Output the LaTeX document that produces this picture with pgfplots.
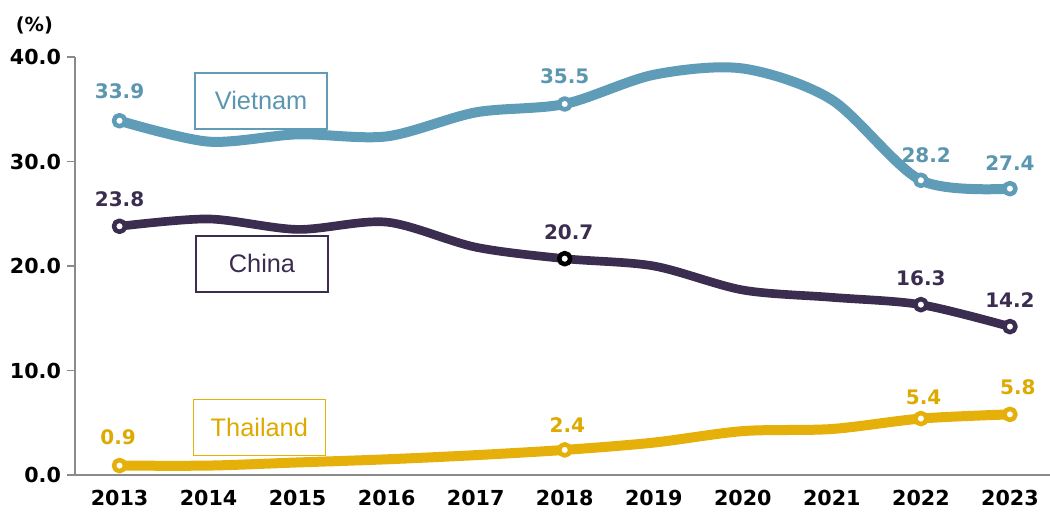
\documentclass[border=0pt]{standalone}
\usepackage{pgfplots}
\pgfplotsset{compat=1.18}
\usepackage{fontspec}
\setmainfont{DejaVu Sans}
\newfontfamily\dv{DejaVu Sans}
\newfontfamily\ar{Liberation Sans}
\definecolor{vn}{HTML}{5F9CB8}
\definecolor{vnt}{HTML}{5B96B0}
\definecolor{cn}{HTML}{3B2D50}
\definecolor{th}{HTML}{E5B00A}
\definecolor{tht}{HTML}{DDAA00}
\definecolor{axg}{HTML}{8A8A8A}
\begin{document}
\begin{tikzpicture}
\begin{axis}[
  scale only axis,
  width=731.25pt, height=313.5pt,
  xmin=-0.5, xmax=10.45,
  ymin=0, ymax=40,
  axis x line*=bottom, axis y line*=left,
  axis line style={draw=axg, line width=0.8pt},
  xtick={0,...,10},
  xticklabels={2013,2014,2015,2016,2017,2018,2019,2020,2021,2022,2023},
  xtick style={draw=none},
  extra x ticks={-0.5,0.5,1.5,2.5,3.5,4.5,5.5,6.5,7.5,8.5,9.5},
  extra x tick labels={},
  extra x tick style={tick style={draw=axg, line width=0.8pt}, major tick length=6pt, tick align=outside},
  ytick={0,10,20,30,40},
  yticklabels={0.0,10.0,20.0,30.0,40.0},
  ytick style={draw=axg, line width=0.8pt},
  major tick length=6pt,
  tick align=outside,
  ticklabel style={font=\dv\bfseries\fontsize{15.5}{18}\selectfont, text=black},
  xticklabel style={yshift=-4pt, inner sep=1pt},
  yticklabel style={xshift=-1pt},
  clip=false,
  every axis plot/.append style={line cap=round, line join=round},
]
\addplot[vn, line width=7.5pt, smooth, mark=*, mark indices={1,6,10,11},
  mark size=4.2pt, mark options={solid, fill=white, draw=vn, line width=3.4pt}]
  coordinates {(0,33.9)(1,31.9)(2,32.6)(3,32.4)(4,34.7)(5,35.5)(6,38.3)(7,38.9)(8,35.9)(9,28.2)(10,27.4)};
\addplot[cn, line width=6.5pt, smooth, mark=*, mark indices={1,10,11},
  mark size=4.2pt, mark options={solid, fill=white, draw=cn, line width=3.4pt}]
  coordinates {(0,23.8)(1,24.5)(2,23.5)(3,24.2)(4,21.8)(5,20.7)(6,20.0)(7,17.7)(8,17.0)(9,16.3)(10,14.2)};
\addplot[only marks, mark=*, mark size=4.2pt, mark options={solid, fill=white, draw=black, line width=3.4pt}]
  coordinates {(5,20.7)};
\addplot[th, line width=7.5pt, smooth, mark=*, mark indices={1,6,10,11},
  mark size=4.2pt, mark options={solid, fill=white, draw=th, line width=3.4pt}]
  coordinates {(0,0.9)(1,0.9)(2,1.2)(3,1.5)(4,1.9)(5,2.4)(6,3.1)(7,4.2)(8,4.4)(9,5.4)(10,5.8)};
% value labels
\begin{scope}[every node/.style={font=\dv\bfseries\fontsize{15}{18}\selectfont}]
\node[text=vnt] at (axis cs:0,33.9) [yshift=22pt] {33.9};
\node[text=vnt] at (axis cs:5,35.5) [yshift=21pt] {35.5};
\node[text=vnt] at (axis cs:9,28.2) [yshift=19pt, xshift=4pt] {28.2};
\node[text=vnt] at (axis cs:10,27.4) [yshift=19pt] {27.4};
\node[text=cn] at (axis cs:0,23.8) [yshift=20pt] {23.8};
\node[text=cn] at (axis cs:5,20.7) [yshift=20pt, xshift=3pt] {20.7};
\node[text=cn] at (axis cs:9,16.3) [yshift=20pt] {16.3};
\node[text=cn] at (axis cs:10,14.2) [yshift=20pt] {14.2};
\node[text=tht] at (axis cs:0,0.9) [yshift=21pt, xshift=-1pt] {0.9};
\node[text=tht] at (axis cs:5,2.4) [yshift=19pt, xshift=2pt] {2.4};
\node[text=tht] at (axis cs:9,5.4) [yshift=16pt, xshift=2pt] {5.4};
\node[text=tht] at (axis cs:10,5.8) [yshift=20pt, xshift=6pt] {5.8};
\end{scope}
% series boxes
\begin{scope}[every node/.style={font=\ar\fontsize{19}{22}\selectfont, minimum width=99pt, minimum height=42pt, inner sep=0pt, fill=white, line width=1.1pt}]
\node[draw=vn, text=vnt] at (axis cs:1.59,35.8) {Vietnam};
\node[draw=cn, text=cn] at (axis cs:1.60,20.2) {China};
\node[draw=th, text=tht] at (axis cs:1.57,4.55) {Thailand};
\end{scope}
\node[font=\dv\bfseries\fontsize{14.5}{17}\selectfont] at (axis cs:-0.5,40) [xshift=-30.5pt, yshift=23.5pt] {(\%)};
\end{axis}
\pgfresetboundingbox
\path[use as bounding box] ([xshift=-56.25pt,yshift=-27.75pt]current axis.south west) rectangle ([yshift=42.75pt]current axis.north east);
\end{tikzpicture}
\end{document}
